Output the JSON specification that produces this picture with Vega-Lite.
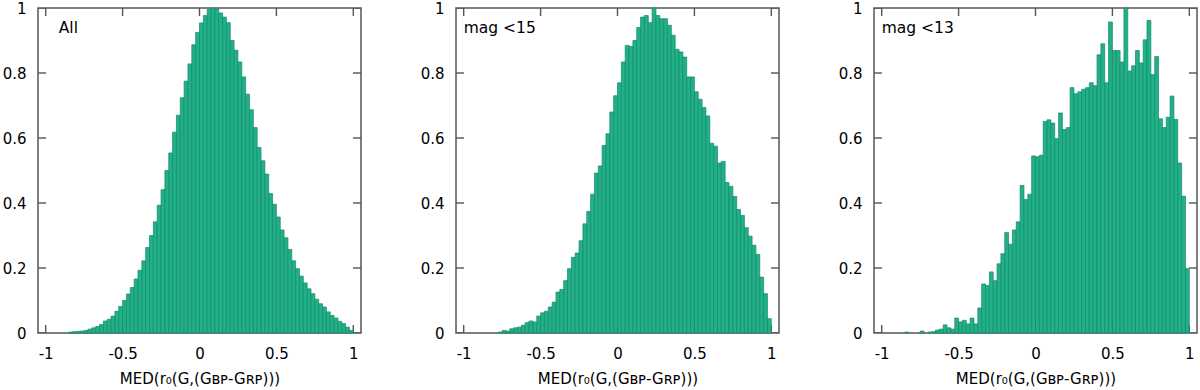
{
  "$schema": "https://vega.github.io/schema/vega-lite/v6.json",
  "padding": {"left": 1, "top": 0, "right": 0, "bottom": 0},
  "background": "white",
  "datasets": {
    "xticks": [{"t": -1}, {"t": -0.5}, {"t": 0}, {"t": 0.5}, {"t": 1}],
    "yticks": [{"t": 0}, {"t": 0.2}, {"t": 0.4}, {"t": 0.6}, {"t": 0.8}, {"t": 1}],
    "all": [
      {"lo": -0.85, "hi": -0.825, "v": 0.003}, {"lo": -0.825, "hi": -0.8, "v": 0.004}, {"lo": -0.8, "hi": -0.775, "v": 0.005}, {"lo": -0.775, "hi": -0.75, "v": 0.006},
      {"lo": -0.75, "hi": -0.725, "v": 0.008}, {"lo": -0.725, "hi": -0.7, "v": 0.012}, {"lo": -0.7, "hi": -0.675, "v": 0.016}, {"lo": -0.675, "hi": -0.65, "v": 0.020},
      {"lo": -0.65, "hi": -0.625, "v": 0.026}, {"lo": -0.625, "hi": -0.6, "v": 0.037}, {"lo": -0.6, "hi": -0.575, "v": 0.042}, {"lo": -0.575, "hi": -0.55, "v": 0.052},
      {"lo": -0.55, "hi": -0.525, "v": 0.067}, {"lo": -0.525, "hi": -0.5, "v": 0.082}, {"lo": -0.5, "hi": -0.475, "v": 0.100}, {"lo": -0.475, "hi": -0.45, "v": 0.120},
      {"lo": -0.45, "hi": -0.425, "v": 0.140}, {"lo": -0.425, "hi": -0.4, "v": 0.166}, {"lo": -0.4, "hi": -0.375, "v": 0.193}, {"lo": -0.375, "hi": -0.35, "v": 0.222},
      {"lo": -0.35, "hi": -0.325, "v": 0.263}, {"lo": -0.325, "hi": -0.3, "v": 0.300}, {"lo": -0.3, "hi": -0.275, "v": 0.342}, {"lo": -0.275, "hi": -0.25, "v": 0.393},
      {"lo": -0.25, "hi": -0.225, "v": 0.441}, {"lo": -0.225, "hi": -0.2, "v": 0.500}, {"lo": -0.2, "hi": -0.175, "v": 0.554}, {"lo": -0.175, "hi": -0.15, "v": 0.618},
      {"lo": -0.15, "hi": -0.125, "v": 0.670}, {"lo": -0.125, "hi": -0.1, "v": 0.724}, {"lo": -0.1, "hi": -0.075, "v": 0.775}, {"lo": -0.075, "hi": -0.05, "v": 0.828},
      {"lo": -0.05, "hi": -0.025, "v": 0.887}, {"lo": -0.025, "hi": 0.0, "v": 0.925}, {"lo": 0.0, "hi": 0.025, "v": 0.954}, {"lo": 0.025, "hi": 0.05, "v": 0.977},
      {"lo": 0.05, "hi": 0.075, "v": 0.996}, {"lo": 0.075, "hi": 0.1, "v": 1.0}, {"lo": 0.1, "hi": 0.125, "v": 0.997}, {"lo": 0.125, "hi": 0.15, "v": 0.985},
      {"lo": 0.15, "hi": 0.175, "v": 0.972}, {"lo": 0.175, "hi": 0.2, "v": 0.955}, {"lo": 0.2, "hi": 0.225, "v": 0.900}, {"lo": 0.225, "hi": 0.25, "v": 0.870},
      {"lo": 0.25, "hi": 0.275, "v": 0.834}, {"lo": 0.275, "hi": 0.3, "v": 0.788}, {"lo": 0.3, "hi": 0.325, "v": 0.735}, {"lo": 0.325, "hi": 0.35, "v": 0.687},
      {"lo": 0.35, "hi": 0.375, "v": 0.632}, {"lo": 0.375, "hi": 0.4, "v": 0.571}, {"lo": 0.4, "hi": 0.425, "v": 0.530}, {"lo": 0.425, "hi": 0.45, "v": 0.489},
      {"lo": 0.45, "hi": 0.475, "v": 0.429}, {"lo": 0.475, "hi": 0.5, "v": 0.396}, {"lo": 0.5, "hi": 0.525, "v": 0.357}, {"lo": 0.525, "hi": 0.55, "v": 0.317},
      {"lo": 0.55, "hi": 0.575, "v": 0.293}, {"lo": 0.575, "hi": 0.6, "v": 0.257}, {"lo": 0.6, "hi": 0.625, "v": 0.222}, {"lo": 0.625, "hi": 0.65, "v": 0.198},
      {"lo": 0.65, "hi": 0.675, "v": 0.175}, {"lo": 0.675, "hi": 0.7, "v": 0.154}, {"lo": 0.7, "hi": 0.725, "v": 0.136}, {"lo": 0.725, "hi": 0.75, "v": 0.121},
      {"lo": 0.75, "hi": 0.775, "v": 0.104}, {"lo": 0.775, "hi": 0.8, "v": 0.090}, {"lo": 0.8, "hi": 0.825, "v": 0.080}, {"lo": 0.825, "hi": 0.85, "v": 0.065},
      {"lo": 0.85, "hi": 0.875, "v": 0.054}, {"lo": 0.875, "hi": 0.9, "v": 0.046}, {"lo": 0.9, "hi": 0.925, "v": 0.036}, {"lo": 0.925, "hi": 0.95, "v": 0.029},
      {"lo": 0.95, "hi": 0.975, "v": 0.018}, {"lo": 0.975, "hi": 1.0, "v": 0.008}
    ],
    "mag15": [
      {"lo": -0.775, "hi": -0.75, "v": 0.003}, {"lo": -0.75, "hi": -0.725, "v": 0.008}, {"lo": -0.725, "hi": -0.7, "v": 0.006}, {"lo": -0.7, "hi": -0.675, "v": 0.013},
      {"lo": -0.675, "hi": -0.65, "v": 0.016}, {"lo": -0.65, "hi": -0.625, "v": 0.018}, {"lo": -0.625, "hi": -0.6, "v": 0.024}, {"lo": -0.6, "hi": -0.575, "v": 0.032},
      {"lo": -0.575, "hi": -0.55, "v": 0.037}, {"lo": -0.55, "hi": -0.525, "v": 0.034}, {"lo": -0.525, "hi": -0.5, "v": 0.052}, {"lo": -0.5, "hi": -0.475, "v": 0.062},
      {"lo": -0.475, "hi": -0.45, "v": 0.067}, {"lo": -0.45, "hi": -0.425, "v": 0.080}, {"lo": -0.425, "hi": -0.4, "v": 0.095}, {"lo": -0.4, "hi": -0.375, "v": 0.126},
      {"lo": -0.375, "hi": -0.35, "v": 0.134}, {"lo": -0.35, "hi": -0.325, "v": 0.161}, {"lo": -0.325, "hi": -0.3, "v": 0.198}, {"lo": -0.3, "hi": -0.275, "v": 0.233},
      {"lo": -0.275, "hi": -0.25, "v": 0.246}, {"lo": -0.25, "hi": -0.225, "v": 0.284}, {"lo": -0.225, "hi": -0.2, "v": 0.336}, {"lo": -0.2, "hi": -0.175, "v": 0.374},
      {"lo": -0.175, "hi": -0.15, "v": 0.427}, {"lo": -0.15, "hi": -0.125, "v": 0.492}, {"lo": -0.125, "hi": -0.1, "v": 0.514}, {"lo": -0.1, "hi": -0.075, "v": 0.577},
      {"lo": -0.075, "hi": -0.05, "v": 0.613}, {"lo": -0.05, "hi": -0.025, "v": 0.680}, {"lo": -0.025, "hi": 0.0, "v": 0.730}, {"lo": 0.0, "hi": 0.025, "v": 0.770},
      {"lo": 0.025, "hi": 0.05, "v": 0.834}, {"lo": 0.05, "hi": 0.075, "v": 0.885}, {"lo": 0.075, "hi": 0.1, "v": 0.882}, {"lo": 0.1, "hi": 0.125, "v": 0.900},
      {"lo": 0.125, "hi": 0.15, "v": 0.940}, {"lo": 0.15, "hi": 0.175, "v": 0.972}, {"lo": 0.175, "hi": 0.2, "v": 0.977}, {"lo": 0.2, "hi": 0.225, "v": 0.955},
      {"lo": 0.225, "hi": 0.25, "v": 1.0}, {"lo": 0.25, "hi": 0.275, "v": 0.977}, {"lo": 0.275, "hi": 0.3, "v": 0.967}, {"lo": 0.3, "hi": 0.325, "v": 0.967},
      {"lo": 0.325, "hi": 0.35, "v": 0.947}, {"lo": 0.35, "hi": 0.375, "v": 0.916}, {"lo": 0.375, "hi": 0.4, "v": 0.873}, {"lo": 0.4, "hi": 0.425, "v": 0.865},
      {"lo": 0.425, "hi": 0.45, "v": 0.849}, {"lo": 0.45, "hi": 0.475, "v": 0.788}, {"lo": 0.475, "hi": 0.5, "v": 0.788}, {"lo": 0.5, "hi": 0.525, "v": 0.742},
      {"lo": 0.525, "hi": 0.55, "v": 0.719}, {"lo": 0.55, "hi": 0.575, "v": 0.694}, {"lo": 0.575, "hi": 0.6, "v": 0.668}, {"lo": 0.6, "hi": 0.625, "v": 0.584},
      {"lo": 0.625, "hi": 0.65, "v": 0.575}, {"lo": 0.65, "hi": 0.675, "v": 0.523}, {"lo": 0.675, "hi": 0.7, "v": 0.528}, {"lo": 0.7, "hi": 0.725, "v": 0.463},
      {"lo": 0.725, "hi": 0.75, "v": 0.451}, {"lo": 0.75, "hi": 0.775, "v": 0.420}, {"lo": 0.775, "hi": 0.8, "v": 0.380}, {"lo": 0.8, "hi": 0.825, "v": 0.362},
      {"lo": 0.825, "hi": 0.85, "v": 0.324}, {"lo": 0.85, "hi": 0.875, "v": 0.298}, {"lo": 0.875, "hi": 0.9, "v": 0.270}, {"lo": 0.9, "hi": 0.925, "v": 0.242},
      {"lo": 0.925, "hi": 0.95, "v": 0.172}, {"lo": 0.95, "hi": 0.975, "v": 0.121}, {"lo": 0.975, "hi": 1.0, "v": 0.044}
    ],
    "mag13": [
      {"lo": -0.85, "hi": -0.825, "v": 0.003}, {"lo": -0.75, "hi": -0.725, "v": 0.006}, {"lo": -0.7, "hi": -0.675, "v": 0.003}, {"lo": -0.675, "hi": -0.65, "v": 0.004},
      {"lo": -0.65, "hi": -0.625, "v": 0.009}, {"lo": -0.625, "hi": -0.6, "v": 0.012}, {"lo": -0.6, "hi": -0.575, "v": 0.025}, {"lo": -0.575, "hi": -0.55, "v": 0.016},
      {"lo": -0.55, "hi": -0.525, "v": 0.012}, {"lo": -0.525, "hi": -0.5, "v": 0.046}, {"lo": -0.5, "hi": -0.475, "v": 0.034}, {"lo": -0.475, "hi": -0.45, "v": 0.039},
      {"lo": -0.45, "hi": -0.425, "v": 0.028}, {"lo": -0.425, "hi": -0.4, "v": 0.046}, {"lo": -0.4, "hi": -0.375, "v": 0.028}, {"lo": -0.375, "hi": -0.35, "v": 0.077},
      {"lo": -0.35, "hi": -0.325, "v": 0.151}, {"lo": -0.325, "hi": -0.3, "v": 0.146}, {"lo": -0.3, "hi": -0.275, "v": 0.188}, {"lo": -0.275, "hi": -0.25, "v": 0.161},
      {"lo": -0.25, "hi": -0.225, "v": 0.213}, {"lo": -0.225, "hi": -0.2, "v": 0.244}, {"lo": -0.2, "hi": -0.175, "v": 0.309}, {"lo": -0.175, "hi": -0.15, "v": 0.273},
      {"lo": -0.15, "hi": -0.125, "v": 0.317}, {"lo": -0.125, "hi": -0.1, "v": 0.342}, {"lo": -0.1, "hi": -0.075, "v": 0.454}, {"lo": -0.075, "hi": -0.05, "v": 0.411},
      {"lo": -0.05, "hi": -0.025, "v": 0.427}, {"lo": -0.025, "hi": 0.0, "v": 0.545}, {"lo": 0.0, "hi": 0.025, "v": 0.542}, {"lo": 0.025, "hi": 0.05, "v": 0.547},
      {"lo": 0.05, "hi": 0.075, "v": 0.651}, {"lo": 0.075, "hi": 0.1, "v": 0.656}, {"lo": 0.1, "hi": 0.125, "v": 0.646}, {"lo": 0.125, "hi": 0.15, "v": 0.598},
      {"lo": 0.15, "hi": 0.175, "v": 0.677}, {"lo": 0.175, "hi": 0.2, "v": 0.626}, {"lo": 0.2, "hi": 0.225, "v": 0.632}, {"lo": 0.225, "hi": 0.25, "v": 0.755},
      {"lo": 0.25, "hi": 0.275, "v": 0.736}, {"lo": 0.275, "hi": 0.3, "v": 0.742}, {"lo": 0.3, "hi": 0.325, "v": 0.750}, {"lo": 0.325, "hi": 0.35, "v": 0.755},
      {"lo": 0.35, "hi": 0.375, "v": 0.770}, {"lo": 0.375, "hi": 0.4, "v": 0.761}, {"lo": 0.4, "hi": 0.425, "v": 0.856}, {"lo": 0.425, "hi": 0.45, "v": 0.890},
      {"lo": 0.45, "hi": 0.475, "v": 0.770}, {"lo": 0.475, "hi": 0.5, "v": 0.957}, {"lo": 0.5, "hi": 0.525, "v": 0.869}, {"lo": 0.525, "hi": 0.55, "v": 0.869},
      {"lo": 0.55, "hi": 0.575, "v": 0.834}, {"lo": 0.575, "hi": 0.6, "v": 1.0}, {"lo": 0.6, "hi": 0.625, "v": 0.806}, {"lo": 0.625, "hi": 0.65, "v": 0.822},
      {"lo": 0.65, "hi": 0.675, "v": 0.869}, {"lo": 0.675, "hi": 0.7, "v": 0.831}, {"lo": 0.7, "hi": 0.725, "v": 0.902}, {"lo": 0.725, "hi": 0.75, "v": 0.962},
      {"lo": 0.75, "hi": 0.775, "v": 0.795}, {"lo": 0.775, "hi": 0.8, "v": 0.851}, {"lo": 0.8, "hi": 0.825, "v": 0.659}, {"lo": 0.825, "hi": 0.85, "v": 0.632},
      {"lo": 0.85, "hi": 0.875, "v": 0.664}, {"lo": 0.875, "hi": 0.9, "v": 0.729}, {"lo": 0.9, "hi": 0.925, "v": 0.657}, {"lo": 0.925, "hi": 0.95, "v": 0.523},
      {"lo": 0.95, "hi": 0.975, "v": 0.421}, {"lo": 0.975, "hi": 1.0, "v": 0.198}
    ]
  },
  "spacing": 57,
  "hconcat": [
    {
      "width": 323, "height": 325,
      "layer": [
        {"data": {"name": "xticks"}, "mark": {"type": "tick", "orient": "vertical", "size": 16, "thickness": 1.4, "color": "#555555", "opacity": 1, "clip": true},
         "encoding": {"x": {"field": "t", "type": "quantitative"}, "y": {"datum": 1}}},
        {"data": {"name": "xticks"}, "mark": {"type": "tick", "orient": "vertical", "size": 16, "thickness": 1.4, "color": "#555555", "opacity": 1, "clip": true},
         "encoding": {"x": {"field": "t", "type": "quantitative"}, "y": {"datum": 0}}},
        {"data": {"name": "yticks"}, "mark": {"type": "tick", "orient": "horizontal", "size": 16, "thickness": 1.4, "color": "#555555", "opacity": 1, "clip": true},
         "encoding": {"y": {"field": "t", "type": "quantitative"}, "x": {"datum": -1.05}}},
        {"data": {"name": "yticks"}, "mark": {"type": "tick", "orient": "horizontal", "size": 16, "thickness": 1.4, "color": "#555555", "opacity": 1, "clip": true},
         "encoding": {"y": {"field": "t", "type": "quantitative"}, "x": {"datum": 1.05}}},
        {
          "data": {"name": "all"},
          "mark": {"type": "bar", "fill": "#22b088", "stroke": "#12896a", "strokeWidth": 0.7},
          "encoding": {
            "x": {"field": "lo", "type": "quantitative", "scale": {"domain": [-1.05, 1.05], "nice": false, "zero": false},
                  "axis": {"orient": "bottom", "values": [-1, -0.5, 0, 0.5, 1], "labelExpr": "'' + datum.value", "title": "MED(r₀(G,(Gʙᴘ-Gʀᴘ)))"}},
            "x2": {"field": "hi"},
            "y": {"field": "v", "type": "quantitative", "stack": null, "scale": {"domain": [0, 1], "nice": false},
                  "axis": {"orient": "left", "values": [0, 0.2, 0.4, 0.6, 0.8, 1], "labelExpr": "'' + datum.value", "title": null}},
            "y2": {"datum": 0}
          }
        },
        {
          "data": {"values": [{"label": "All"}]},
          "mark": {"type": "text", "align": "left", "baseline": "middle", "font": "DejaVu Sans", "fontSize": 15.5, "color": "#000"},
          "encoding": {"x": {"datum": -0.915}, "y": {"datum": 0.94}, "text": {"field": "label"}}
        }
      ]
    },
    {
      "width": 323, "height": 325,
      "layer": [
        {"data": {"name": "xticks"}, "mark": {"type": "tick", "orient": "vertical", "size": 16, "thickness": 1.4, "color": "#555555", "opacity": 1, "clip": true},
         "encoding": {"x": {"field": "t", "type": "quantitative"}, "y": {"datum": 1}}},
        {"data": {"name": "xticks"}, "mark": {"type": "tick", "orient": "vertical", "size": 16, "thickness": 1.4, "color": "#555555", "opacity": 1, "clip": true},
         "encoding": {"x": {"field": "t", "type": "quantitative"}, "y": {"datum": 0}}},
        {"data": {"name": "yticks"}, "mark": {"type": "tick", "orient": "horizontal", "size": 16, "thickness": 1.4, "color": "#555555", "opacity": 1, "clip": true},
         "encoding": {"y": {"field": "t", "type": "quantitative"}, "x": {"datum": -1.05}}},
        {"data": {"name": "yticks"}, "mark": {"type": "tick", "orient": "horizontal", "size": 16, "thickness": 1.4, "color": "#555555", "opacity": 1, "clip": true},
         "encoding": {"y": {"field": "t", "type": "quantitative"}, "x": {"datum": 1.05}}},
        {
          "data": {"name": "mag15"},
          "mark": {"type": "bar", "fill": "#22b088", "stroke": "#12896a", "strokeWidth": 0.7},
          "encoding": {
            "x": {"field": "lo", "type": "quantitative", "scale": {"domain": [-1.05, 1.05], "nice": false, "zero": false},
                  "axis": {"orient": "bottom", "values": [-1, -0.5, 0, 0.5, 1], "labelExpr": "'' + datum.value", "title": "MED(r₀(G,(Gʙᴘ-Gʀᴘ)))"}},
            "x2": {"field": "hi"},
            "y": {"field": "v", "type": "quantitative", "stack": null, "scale": {"domain": [0, 1], "nice": false},
                  "axis": {"orient": "left", "values": [0, 0.2, 0.4, 0.6, 0.8, 1], "labelExpr": "'' + datum.value", "title": null}},
            "y2": {"datum": 0}
          }
        },
        {
          "data": {"values": [{"label": "mag <15"}]},
          "mark": {"type": "text", "align": "left", "baseline": "middle", "font": "DejaVu Sans", "fontSize": 15.5, "color": "#000"},
          "encoding": {"x": {"datum": -1.0}, "y": {"datum": 0.94}, "text": {"field": "label"}}
        }
      ]
    },
    {
      "width": 323, "height": 325,
      "layer": [
        {"data": {"name": "xticks"}, "mark": {"type": "tick", "orient": "vertical", "size": 16, "thickness": 1.4, "color": "#555555", "opacity": 1, "clip": true},
         "encoding": {"x": {"field": "t", "type": "quantitative"}, "y": {"datum": 1}}},
        {"data": {"name": "xticks"}, "mark": {"type": "tick", "orient": "vertical", "size": 16, "thickness": 1.4, "color": "#555555", "opacity": 1, "clip": true},
         "encoding": {"x": {"field": "t", "type": "quantitative"}, "y": {"datum": 0}}},
        {"data": {"name": "yticks"}, "mark": {"type": "tick", "orient": "horizontal", "size": 16, "thickness": 1.4, "color": "#555555", "opacity": 1, "clip": true},
         "encoding": {"y": {"field": "t", "type": "quantitative"}, "x": {"datum": -1.05}}},
        {"data": {"name": "yticks"}, "mark": {"type": "tick", "orient": "horizontal", "size": 16, "thickness": 1.4, "color": "#555555", "opacity": 1, "clip": true},
         "encoding": {"y": {"field": "t", "type": "quantitative"}, "x": {"datum": 1.05}}},
        {
          "data": {"name": "mag13"},
          "mark": {"type": "bar", "fill": "#22b088", "stroke": "#12896a", "strokeWidth": 0.7},
          "encoding": {
            "x": {"field": "lo", "type": "quantitative", "scale": {"domain": [-1.05, 1.05], "nice": false, "zero": false},
                  "axis": {"orient": "bottom", "values": [-1, -0.5, 0, 0.5, 1], "labelExpr": "'' + datum.value", "title": "MED(r₀(G,(Gʙᴘ-Gʀᴘ)))"}},
            "x2": {"field": "hi"},
            "y": {"field": "v", "type": "quantitative", "stack": null, "scale": {"domain": [0, 1], "nice": false},
                  "axis": {"orient": "left", "values": [0, 0.2, 0.4, 0.6, 0.8, 1], "labelExpr": "'' + datum.value", "title": null}},
            "y2": {"datum": 0}
          }
        },
        {
          "data": {"values": [{"label": "mag <13"}]},
          "mark": {"type": "text", "align": "left", "baseline": "middle", "font": "DejaVu Sans", "fontSize": 15.5, "color": "#000"},
          "encoding": {"x": {"datum": -1.0}, "y": {"datum": 0.94}, "text": {"field": "label"}}
        }
      ]
    }
  ],
  "config": {
    "view": {"stroke": "#555555", "strokeWidth": 1.5},
    "axis": {
      "domain": false, "grid": false, "ticks": false,
      "labelFont": "DejaVu Sans", "labelFontSize": 15, "labelColor": "#000000", "labelFlush": false,
      "titleFont": "DejaVu Sans", "titleFontSize": 15, "titleFontWeight": "normal", "titleColor": "#000000"
    },
    "axisLeft": {"labelPadding": 12},
    "axisBottom": {"labelPadding": 13, "titlePadding": 10}
  }
}
